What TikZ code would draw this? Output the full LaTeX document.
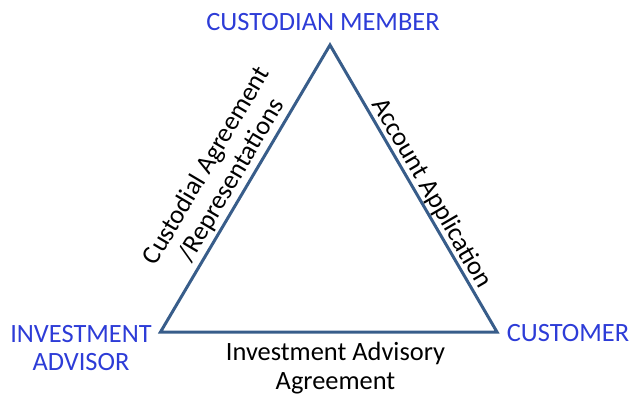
\documentclass[tikz,border=0pt]{standalone}
\usepackage{fontspec}
\setmainfont{Carlito}
\definecolor{lblblue}{RGB}{45,60,215}
\definecolor{edgeblue}{RGB}{56,93,138}
\begin{document}
\begin{tikzpicture}[x=1bp,y=-1bp,
  vlabel/.style={text=lblblue,font=\fontsize{26.5}{29}\selectfont,inner sep=0pt,align=center},
  elabel/.style={text=black,font=\fontsize{26.5}{29}\selectfont,inner sep=0pt,align=center},
  edgeline/.style={draw=edgeblue,line width=3bp,line join=miter}]
\useasboundingbox (0,0) rectangle (634,395);
\coordinate (T) at (330,45);
\coordinate (L) at (160.5,332);
\coordinate (R) at (497,332);
\draw[edgeline] (T) -- (L) -- (R) -- cycle;
\node[vlabel,anchor=base] (cm) at (323,30) {CUSTODIAN MEMBER};
\node[vlabel,anchor=base] (cu) at (568,341) {CUSTOMER};
\node[vlabel] (ia) at (81,348) {INVESTMENT\\ADVISOR};
\node[elabel] (iaa) at (335.5,368) {Investment Advisory\\Agreement};
\node[elabel,rotate=59.4] (ca) at (219.4,173.2) {Custodial Agreement\\/Representations};
\node[elabel,rotate=-59.8] (aa) at (431.5,193.5) {Account Application};
\end{tikzpicture}
\end{document}
